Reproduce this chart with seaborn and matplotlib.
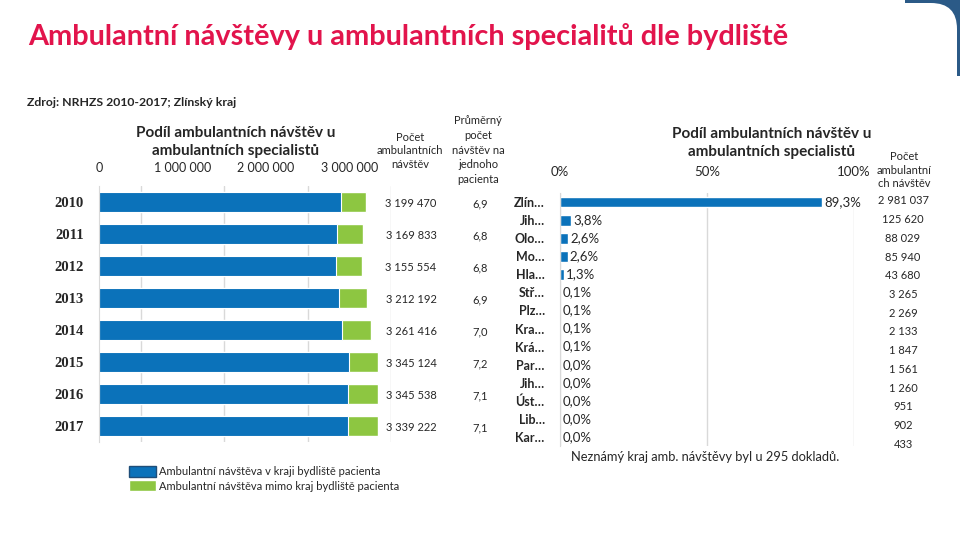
import numpy as np
import pandas as pd
import matplotlib
matplotlib.use("Agg")
import matplotlib.pyplot as plt
import matplotlib.transforms as mtrans
from matplotlib.patches import Patch, Rectangle, FancyBboxPatch
import seaborn as sns

# --- data ---
roky = ['2010', '2011', '2012', '2013', '2014', '2015', '2016', '2017']
navstevy_celkem = [3199470, 3169833, 3155554, 3212192, 3261416, 3345124, 3345538, 3339222]
navstevy_v_kraji = [2895000, 2856000, 2843000, 2880000, 2916000, 3000000, 2988000, 2981037]
prumer_na_pacienta = [6.9, 6.8, 6.8, 6.9, 7.0, 7.2, 7.1, 7.1]

kraje = ['Zlín…', 'Jih…', 'Olo…', 'Mo…', 'Hla…', 'Stř…', 'Plz…', 'Kra…', 'Krá…',
         'Par…', 'Jih…', 'Úst…', 'Lib…', 'Kar…']
kraje_pocet = [2981037, 125620, 88029, 85940, 43680, 3265, 2269, 2133, 1847,
               1561, 1260, 951, 902, 433]
celkem_2017 = 3339222
neznamy_kraj = 295

modra = '#0B72BA'
zelena = '#8DC641'
seda = '#D9D9D9'

df = pd.DataFrame({'rok': roky, 'celkem': navstevy_celkem, 'v_kraji': navstevy_v_kraji})
df['mimo'] = df['celkem'] - df['v_kraji']

dk = pd.DataFrame({'poradi': list(range(len(kraje))), 'pocet': kraje_pocet})
dk['podil'] = dk['pocet'] / celkem_2017

sns.set_style('white')
plt.rcParams['font.family'] = ['Lato', 'DejaVu Sans']


def fmt(n):
    return f"{n:,.0f}".replace(',', ' ')


fig = plt.figure(figsize=(9.6, 5.4), dpi=100)


def px_axes(l, t, r, b):
    return fig.add_axes([l / 960, 1 - b / 540, (r - l) / 960, (b - t) / 540])


# overlay in pixel coordinates for free text
ov = fig.add_axes([0, 0, 1, 1], zorder=0)
ov.set_xlim(0, 960)
ov.set_ylim(540, 0)
ov.axis('off')

# corner decoration
ov.add_patch(Rectangle((905, 0), 55, 76, color='#2B5A87', lw=0))
ov.add_patch(FancyBboxPatch((840, 3), 117, 140, boxstyle='round,pad=0,rounding_size=26',
                            facecolor='white', edgecolor='none'))

ov.text(28, 36, 'Ambulantní návštěvy u ambulantních specialitů dle bydliště',
        fontsize=20.8, color='#E2144C', fontweight='bold', va='center')
ov.text(27, 102, 'Zdroj: NRHZS 2010-2017; Zlínský kraj', fontsize=8.8,
        fontweight='bold', va='center')

# --- left chart: stacked bars per year ---
ax = px_axes(99, 186, 391, 442)
ax.set_zorder(1)
ax.patch.set_alpha(0)
sns.barplot(data=df, x='celkem', y='rok', color=zelena, width=0.65, ax=ax,
            saturation=1)
sns.barplot(data=df, x='v_kraji', y='rok', color=modra, width=0.65, ax=ax,
            saturation=1, edgecolor='white', linewidth=0.8)
ax.set_xlim(0, 3.5e6)
ax.xaxis.tick_top()
ax.set_xticks([0, 1e6, 2e6, 3e6], labels=[fmt(v) for v in [0, 1e6, 2e6, 3e6]])
ax.set_xticks([0.5e6, 1.5e6, 2.5e6, 3.5e6], minor=True)
ax.grid(which='minor', axis='x', color=seda, lw=1)
ax.tick_params(axis='x', which='both', length=0, pad=9, labelsize=9)
ax.tick_params(axis='y', length=0, pad=11)
for lab in ax.get_yticklabels():
    lab.set_fontfamily('Liberation Serif')
    lab.set_fontweight('bold')
    lab.set_fontsize(10.5)
ax.set_xlabel('')
ax.set_ylabel('')
for s in ['top', 'right', 'bottom']:
    ax.spines[s].set_visible(False)
ax.spines['left'].set_color(seda)

tr = mtrans.blended_transform_factory(ov.transData, ax.transData)
for i, (c, p) in enumerate(zip(navstevy_celkem, prumer_na_pacienta)):
    ax.text(411, i + 0.05, fmt(c), transform=tr, ha='center', va='center', fontsize=8)
    ax.text(480, i + 0.05, f"{p:.1f}".replace('.', ','), transform=tr,
            ha='center', va='center', fontsize=8)

ov.text(236, 142, 'Podíl ambulantních návštěv u\nambulantních specialistů',
        ha='center', va='center', fontsize=11, fontweight='bold', linespacing=1.3)
ov.text(410, 151, 'Počet\nambulantních\nnávštěv', ha='center', va='center',
        fontsize=8, linespacing=1.25)
ov.text(478, 150, 'Průměrný\npočet\nnávštěv na\njednoho\npacienta', ha='center',
        va='center', fontsize=8, linespacing=1.4)

fig.legend(handles=[Patch(facecolor=modra, edgecolor='#1F4E79'), Patch(facecolor=zelena)],
           labels=['Ambulantní návštěva v kraji bydliště pacienta',
                   'Ambulantní návštěva mimo kraj bydliště pacienta'],
           loc='upper left', bbox_to_anchor=(129 / 960, 1 - 466 / 540), frameon=False,
           fontsize=8, handlelength=2.4, handleheight=1.1, labelspacing=0.3,
           handletextpad=0.3, borderaxespad=0, borderpad=0)

# --- right chart: share by region of residence (2017) ---
ax2 = px_axes(560, 193, 854, 446)
ax2.set_zorder(1)
ax2.patch.set_alpha(0)
sns.barplot(data=dk, x='podil', y='poradi', orient='h', color=modra, width=0.6,
            ax=ax2, saturation=1)
ax2.set_xlim(0, 1)
ax2.xaxis.tick_top()
ax2.set_xticks([0, 0.5, 1], labels=['0%', '50%', '100%'])
ax2.grid(axis='x', color=seda, lw=1)
ax2.tick_params(axis='x', length=0, pad=11, labelsize=9.5)
ax2.set_yticks(range(len(kraje)), labels=kraje)
ax2.tick_params(axis='y', length=0, pad=11, labelsize=9)
for lab in ax2.get_yticklabels():
    lab.set_fontweight('bold')
ax2.set_xlabel('')
ax2.set_ylabel('')
for s in ['top', 'right', 'bottom']:
    ax2.spines[s].set_visible(False)
ax2.spines['left'].set_color(seda)

for i, p in enumerate(dk['podil']):
    ax2.text(p + 0.008, i, f"{p * 100:.1f}".replace('.', ',') + '%',
             ha='left', va='center', fontsize=9.5)

ov.text(772, 143, 'Podíl ambulantních návštěv u\nambulantních specialistů',
        ha='center', va='center', fontsize=11, fontweight='bold', linespacing=1.3)
ov.text(904, 170, 'Počet\nambulantní\nch návštěv', ha='center', va='center',
        fontsize=8, linespacing=1.3)
for i, c in enumerate(kraje_pocet):
    ov.text(903, 201 + i * 18.7, fmt(c), ha='center', va='center', fontsize=8)

ov.text(705, 457, f'Neznámý kraj amb. návštěvy byl u {neznamy_kraj} dokladů.',
        ha='center', va='center', fontsize=9.3)

fig.savefig('out.png', dpi=100)
